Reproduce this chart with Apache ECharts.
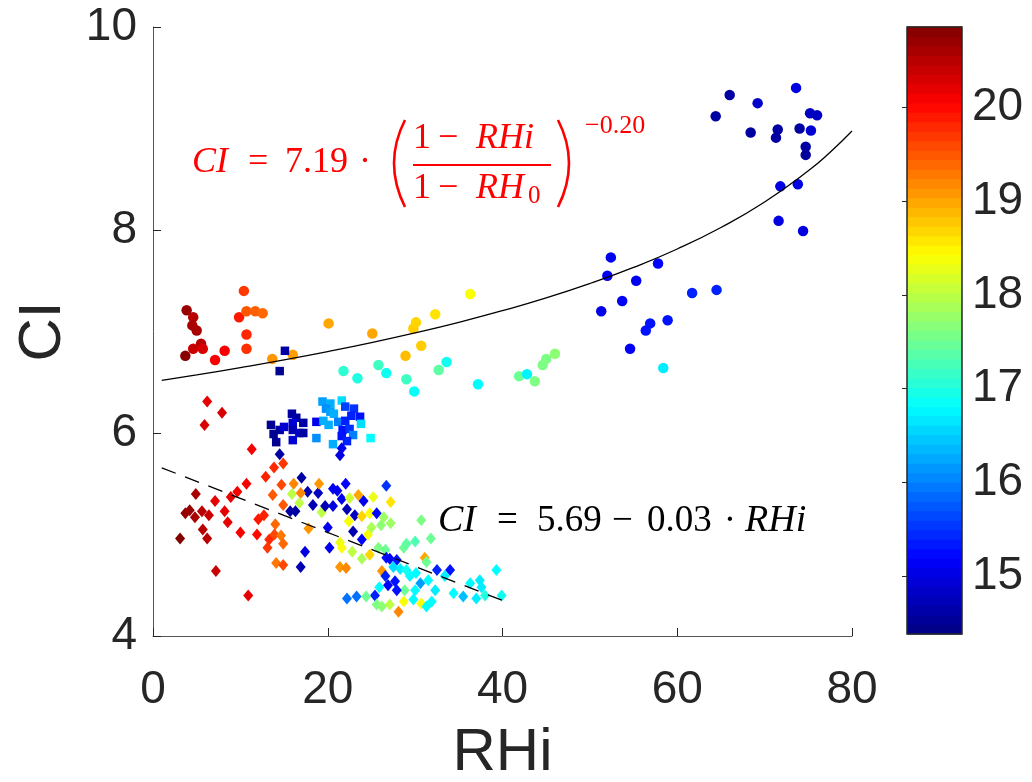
<!DOCTYPE html>
<html><head><meta charset="utf-8">
<script src="https://cdn.jsdelivr.net/npm/echarts@6/dist/echarts.min.js"></script>
<style>html,body{margin:0;padding:0;background:#fff}#c{width:1032px;height:782px}</style>
</head><body><div id="c"></div>
<script>
// ---------- data (RHi, CI, colour value) ----------
const circles = [
 [3.7,6.76,20.8],[3.85,7.21,20.7],[4.6,7.14,20.5],[4.5,7.06,20.6],[5.0,7.01,20.6],[5.5,6.88,20.5],
 [4.6,6.83,20.4],[5.7,6.83,20.3],[7.1,6.72,20.1],[8.2,6.81,20.1],[9.85,7.14,19.9],[10.4,7.40,19.7],
 [10.7,7.20,19.5],[11.7,7.20,19.45],[12.55,7.18,19.4],[10.7,6.97,19.8],[10.7,6.83,19.75],[13.65,6.73,19.1],
 [16.0,6.77,19.05],[20.1,7.08,19.0],[25.1,6.98,19.0],[28.9,6.76,18.85],[29.8,7.03,18.75],[30.1,7.09,18.7],
 [30.7,6.86,18.75],[32.3,7.17,18.6],[36.3,7.37,18.4],[21.8,6.61,17.1],[23.4,6.54,17.0],[25.8,6.67,17.2],
 [26.7,6.59,16.9],[29.0,6.53,17.2],[29.9,6.41,16.85],[32.7,6.62,17.4],[33.6,6.70,16.9],[37.2,6.48,16.8],
 [41.9,6.56,17.5],[42.8,6.58,16.75],[43.7,6.51,17.6],[44.6,6.67,17.6],[45.0,6.73,17.6],[46.0,6.78,17.7],
 [52.4,7.73,15.1],[57.8,7.67,15.2],[52.0,7.55,15.15],[55.3,7.50,15.1],[53.7,7.30,15.15],[51.3,7.20,15.05],
 [58.9,7.11,15.3],[56.9,7.08,15.3],[56.4,7.01,15.3],[54.6,6.83,15.15],[58.4,6.64,16.7],[61.7,7.38,15.4],
 [64.5,7.41,15.4],
 [73.6,9.40,15.0],[66.0,9.33,14.6],[69.2,9.25,14.85],[64.4,9.12,14.6],[75.2,9.15,14.8],[76.0,9.13,14.8],
 [68.4,8.96,14.6],[71.5,8.99,14.6],[71.3,8.91,14.6],[74.0,9.00,14.6],[75.3,8.98,14.9],[74.7,8.82,14.6],
 [74.7,8.74,14.55],[71.8,8.43,15.0],[73.8,8.45,15.0],[71.6,8.09,15.0],[74.4,7.99,15.0]
];
const squares = [
 [15.1,6.81,14.6],[14.5,6.61,14.5],[13.5,6.08,14.5],[14.5,6.03,14.6],[13.8,5.99,14.5],[14.1,5.91,14.5],
 [15.0,6.06,14.9],[15.9,6.19,14.6],[16.4,6.15,14.6],[16.0,6.10,14.9],[16.0,6.03,14.7],[17.2,6.10,14.6],
 [16.75,6.00,14.8],[17.2,6.00,14.6],[16.0,5.93,14.9],[18.7,6.11,15.1],[19.4,6.31,16.2],[20.3,6.29,16.3],
 [19.8,6.24,16.1],[20.3,6.21,16.2],[20.7,6.19,16.3],[21.6,6.32,16.6],[22.0,6.26,15.6],[23.0,6.24,15.5],
 [19.5,6.12,16.3],[20.1,6.08,16.3],[21.2,6.11,16.0],[22.0,6.12,15.4],[22.7,6.17,15.4],[23.7,6.16,15.3],
 [23.8,6.09,16.6],[21.7,6.03,15.3],[22.5,6.04,15.5],[22.9,5.98,16.0],[21.6,5.97,15.3],[22.2,5.92,15.4],
 [20.6,5.89,16.3],[18.7,5.95,16.1],[24.9,5.95,16.8]
];
const diamonds = [
 [6.2,6.31,20.2],[7.9,6.20,20.3],[5.9,6.08,20.3],[11.3,5.84,20.1],[13.85,5.66,19.8],[14.9,5.70,19.7],
 [12.9,5.57,19.85],[10.7,5.50,20.1],[9.65,5.42,20.1],[4.9,5.40,20.6],[7.1,5.33,20.2],[8.9,5.37,20.2],
 [13.7,5.39,19.5],[14.7,5.49,19.6],[4.2,5.24,20.7],[3.7,5.21,20.7],[4.8,5.17,20.6],[5.6,5.23,20.5],
 [6.4,5.19,20.4],[8.2,5.23,20.2],[8.55,5.12,20.2],[5.7,5.05,20.5],[6.2,4.96,20.5],[3.1,4.96,20.85],
 [10.0,5.02,20.1],[11.9,5.00,20.0],[12.05,5.15,19.9],[12.7,5.19,19.85],[13.3,4.95,19.8],[13.1,4.87,19.7],
 [14.0,5.10,19.4],[13.9,5.00,19.6],[14.65,4.99,19.3],[14.9,4.91,19.4],[14.9,5.29,19.5],[14.1,4.72,19.3],
 [14.9,4.70,19.6],[7.2,4.64,20.4],[10.9,4.40,20.2],
 [21.6,5.85,15.1],[21.4,5.78,15.0],[14.5,5.79,14.6],
 [17.0,5.56,14.6],[16.1,5.50,19.2],[17.7,5.42,14.7],[18.9,5.41,14.8],[19.0,5.50,19.1],[15.9,5.40,18.0],
 [16.9,5.41,19.2],[21.1,5.43,15.1],[22.05,5.50,15.2],[26.7,5.48,15.5],[21.6,5.35,15.1],[22.5,5.36,18.1],
 [23.5,5.39,19.0],[24.1,5.33,15.1],[25.2,5.37,18.3],[27.2,5.32,18.6],[16.75,5.31,18.0],[18.3,5.29,14.7],
 [15.7,5.23,14.6],[16.3,5.23,14.6],[17.8,5.06,19.1],[19.3,5.22,18.0],[20.0,5.07,15.1],[20.6,5.28,15.0],
 [20.2,4.87,15.1],[17.4,4.83,15.0],[16.9,4.68,14.7],[21.4,4.92,18.3],[21.6,4.87,18.4],[21.4,4.68,19.1],
 [22.1,4.67,19.2],[22.2,4.37,15.9],[20.6,5.45,15.1],[19.7,5.28,14.7],[22.2,5.25,14.7],[23.1,5.19,14.8],
 [23.9,5.18,18.7],[24.8,5.21,18.4],[25.6,5.21,15.2],[26.4,5.17,17.8],[27.2,5.11,17.8],[30.7,5.14,17.6],
 [22.4,5.13,18.4],[22.9,5.03,14.7],[23.9,4.95,15.2],[24.6,5.00,18.4],[25.0,5.07,17.9],[26.1,5.09,17.7],
 [22.8,4.83,18.0],[23.9,4.76,17.9],[24.8,4.80,18.7],[25.8,4.87,17.6],[26.6,4.85,17.5],[26.7,4.77,15.3],
 [27.1,4.76,15.2],[27.9,4.75,15.3],[28.7,4.87,17.5],[29.0,4.91,17.4],[30.0,4.93,17.3],[31.1,4.77,19.0],
 [31.3,4.73,17.5],[31.8,4.96,17.5],[27.5,4.68,16.6],[28.3,4.66,16.7],[26.2,4.64,19.1],[26.6,4.59,15.4],
 [32.5,4.65,15.4],[34.0,4.65,15.3],[33.4,4.59,16.7],[39.3,4.65,16.8],[37.4,4.55,16.7],[37.6,4.48,16.7],
 [36.3,4.52,16.8],[37.0,4.37,16.7],[38.0,4.40,17.0],[39.9,4.40,16.9],[35.5,4.39,16.4],[34.4,4.42,16.8],
 [32.3,4.45,16.7],[31.5,4.55,16.8],[30.6,4.52,16.2],[30.0,4.45,16.8],[28.8,4.45,17.5],[27.9,4.45,15.3],
 [27.7,4.54,15.3],[26.9,4.50,15.2],[25.9,4.48,16.8],[25.4,4.40,15.4],[24.4,4.39,17.5],[23.3,4.39,15.9],
 [25.6,4.31,17.6],[26.2,4.29,17.7],[27.1,4.31,18.0],[28.1,4.24,19.2],[28.7,4.34,18.4],[29.8,4.36,16.8],
 [30.7,4.32,18.4],[31.3,4.29,16.8],[31.9,4.34,16.8],[29.4,4.59,16.8],[30.1,4.62,16.8],[29.0,4.65,16.9]
];
// fitted curves
const powerFitX = [1,5,10,15,20,25,30,35,40,45,50,55,60,65,70,75,77.5,80];
const powerFitY = [6.518,6.572,6.644,6.720,6.802,6.890,6.986,7.090,7.205,7.331,7.473,7.631,7.813,8.025,8.276,8.583,8.766,8.975];
const linFitX = [1,40];
const linFitY = [5.657,4.35];
// axes / colour bar
const xTicks = [0,20,40,60,80];
const yTicks = [4,6,8,10];
const cbTicks = [15,16,17,18,19,20];
const cbMin = 14.38, cbMax = 20.86;

const jet = ['#000080','#0000FF','#0080FF','#00FFFF','#80FF80','#FFFF00','#FF8000','#FF0000','#800000'];
const nBands = 64;
const cbBands = [];
for (let i = 0; i < nBands; i++) {
  const lo = cbMin + (cbMax - cbMin) * i / nBands;
  const hi = cbMin + (cbMax - cbMin) * (i + 1) / nBands;
  cbBands.push([lo, hi, (lo + hi) / 2]);
}
const zip = (a, b) => a.map((v, i) => [v, b[i]]);

const G = {left:153, top:27, width:699, height:609};
const CB = {left:907, top:27, width:55, height:607};
const txt = '#262626';
const tickFont = 'Liberation Sans, Arial, sans-serif';
const serif = 'Liberation Serif, Times New Roman, serif';

function t(x, y, s, opt) {
  opt = opt || {};
  return {type:'text', x:x, y:y, z:100,
    style:{text:s, fill:opt.fill || '#f00', font:(opt.italic ? 'italic ' : '') + (opt.size || 36) + 'px ' + serif,
           align:opt.align || 'left', verticalAlign:'middle'}};
}
const red = {fill:'#f00'}, redI = {fill:'#f00', italic:true};
const blk = {fill:'#000', size:37}, blkI = {fill:'#000', size:38, italic:true};

const chart = echarts.init(document.getElementById('c'), null, {renderer:'canvas'});
chart.setOption({
  animation:false,
  backgroundColor:'#fff',
  grid:[
    {left:G.left, top:G.top, width:G.width, height:G.height, outerBoundsMode:'none', containLabel:false},
    {left:CB.left, top:CB.top, width:CB.width, height:CB.height, outerBoundsMode:'none', containLabel:false}
  ],
  xAxis:[
    {gridIndex:0, type:'value', min:xTicks[0], max:xTicks[xTicks.length-1], interval:20,
     axisLine:{show:true, onZero:false, lineStyle:{color:'#555', width:1}},
     axisTick:{show:true, inside:true, length:8, lineStyle:{color:txt}},
     axisLabel:{fontSize:46, color:txt, margin:31, fontFamily:tickFont},
     splitLine:{show:false},
     name:'RHi', nameLocation:'middle', nameGap:87,
     nameTextStyle:{fontSize:60, color:txt, fontFamily:tickFont}},
    {gridIndex:1, type:'value', min:0, max:1, show:false}
  ],
  yAxis:[
    {gridIndex:0, type:'value', min:yTicks[0], max:yTicks[yTicks.length-1], interval:2,
     axisLine:{show:true, onZero:false, lineStyle:{color:'#555', width:1}},
     axisTick:{show:true, inside:true, length:8, lineStyle:{color:txt}},
     axisLabel:{fontSize:46, color:txt, margin:16, fontFamily:tickFont},
     splitLine:{show:false},
     name:'CI', nameLocation:'middle', nameGap:80, nameRotate:90,
     nameTextStyle:{fontSize:60, color:txt, fontFamily:tickFont}},
    {gridIndex:1, type:'value', min:cbMin, max:cbMax, position:'right',
     axisLine:{show:false},
     axisTick:{show:true, inside:true, length:5, lineStyle:{color:txt}, customValues:cbTicks},
     axisLabel:{fontSize:46, color:txt, margin:10, fontFamily:tickFont, customValues:cbTicks},
     splitLine:{show:false}}
  ],
  visualMap:{type:'continuous', show:false, min:cbMin, max:cbMax, dimension:2,
    seriesIndex:[0,1,2,5], inRange:{color:jet}},
  series:[
    {type:'scatter', xAxisIndex:0, yAxisIndex:0, symbol:'circle', symbolSize:10.5, data:circles, z:2,
     itemStyle:{opacity:1}},
    {type:'scatter', xAxisIndex:0, yAxisIndex:0, symbol:'rect', symbolSize:8.5, data:squares, z:3,
     itemStyle:{opacity:1}},
    {type:'scatter', xAxisIndex:0, yAxisIndex:0, symbol:'diamond', symbolSize:[10,12], data:diamonds, z:4,
     itemStyle:{opacity:1}},
    {type:'line', xAxisIndex:0, yAxisIndex:0, data:zip(powerFitX, powerFitY), smooth:true, symbol:'none',
     lineStyle:{color:'#000', width:1.3}, z:5},
    {type:'line', xAxisIndex:0, yAxisIndex:0, data:zip(linFitX, linFitY), symbol:'none',
     lineStyle:{color:'#000', width:1.3, type:[15,10]}, z:5},
    {type:'custom', xAxisIndex:1, yAxisIndex:1, data:cbBands, encode:{y:[0,1]},
     renderItem:function(params, api){
       const a = api.coord([0, api.value(0)]);
       const b = api.coord([1, api.value(1)]);
       return {type:'rect', shape:{x:a[0], y:b[1]-0.5, width:b[0]-a[0], height:a[1]-b[1]+1},
               style:{fill:api.visual('color')}};
     }}
  ],
  graphic:[
    {type:'rect', shape:{x:CB.left, y:CB.top, width:CB.width, height:CB.height},
     style:{fill:'none', stroke:txt, lineWidth:1.5}, z:100},
    // red power-law formula
    t(192, 163, 'CI', redI),
    t(248, 163, '=', red),
    t(285, 163, '7.19', red),
    t(365, 163, '·', Object.assign({align:'center'}, red)),
    {type:'bezierCurve', z:100, shape:{x1:405, y1:120, x2:405, y2:207, cpx1:383, cpy1:163},
     style:{stroke:'#f00', lineWidth:2.6, fill:'none'}},
    t(413, 139, '1', red),
    t(438, 139, '−', red),
    t(476, 139, 'RHi', redI),
    {type:'line', shape:{x1:413, y1:165, x2:551, y2:165}, style:{stroke:'#f00', lineWidth:2}, z:100},
    t(413, 189, '1', red),
    t(438, 189, '−', red),
    t(476, 189, 'RH', redI),
    t(528, 196, '0', {fill:'#f00', size:25}),
    {type:'bezierCurve', z:100, shape:{x1:558, y1:120, x2:558, y2:207, cpx1:580, cpy1:163},
     style:{stroke:'#f00', lineWidth:2.6, fill:'none'}},
    t(585, 126, '−0.20', {fill:'#f00', size:26}),
    // black linear formula
    t(438, 521, 'CI', blkI),
    t(497, 521, '=', blk),
    t(537, 521, '5.69', blk),
    t(612, 521, '−', blk),
    t(647, 521, '0.03', blk),
    t(730, 521, '·', Object.assign({align:'center'}, blk)),
    t(745, 521, 'RHi', blkI)
  ]
});
</script></body></html>
